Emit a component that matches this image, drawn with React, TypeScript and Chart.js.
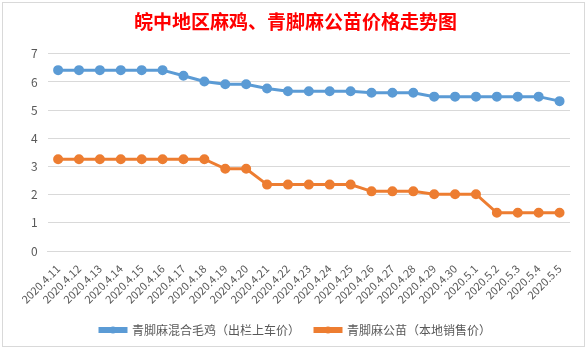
import React, { useEffect, useRef } from "react";
import { Chart, registerables } from "chart.js";

Chart.register(...registerables);

const TITLE = "皖中地区麻鸡、青脚麻公苗价格走势图";
const categories = [
  "2020.4.11", "2020.4.12", "2020.4.13", "2020.4.14", "2020.4.15", "2020.4.16", "2020.4.17",
  "2020.4.18", "2020.4.19", "2020.4.20", "2020.4.21", "2020.4.22", "2020.4.23", "2020.4.24",
  "2020.4.25", "2020.4.26", "2020.4.27", "2020.4.28", "2020.4.29", "2020.4.30", "2020.5.1",
  "2020.5.2", "2020.5.3", "2020.5.4", "2020.5.5",
];
const seriesNames = ["青脚麻混合毛鸡（出栏上车价）", "青脚麻公苗（本地销售价）"];
const chickenPrice = [
  6.42, 6.42, 6.42, 6.42, 6.42, 6.42, 6.22, 6.02, 5.92, 5.92, 5.77, 5.67, 5.67, 5.67,
  5.67, 5.62, 5.62, 5.62, 5.48, 5.48, 5.48, 5.48, 5.48, 5.48, 5.32,
];
const chickPrice = [
  3.26, 3.26, 3.26, 3.26, 3.26, 3.26, 3.26, 3.26, 2.92, 2.92, 2.36, 2.36, 2.36, 2.36,
  2.36, 2.12, 2.12, 2.12, 2.02, 2.02, 2.02, 1.36, 1.36, 1.36, 1.36,
];
const yTicks = [0, 1, 2, 3, 4, 5, 6, 7];

const FONT = "'Noto Sans CJK SC', 'Noto Sans', sans-serif";
const BLUE = "#5B9BD5";
const ORANGE = "#ED7D31";

const legendMarkers = {
  id: "legendMarkers",
  afterDraw(chart: any) {
    const legend = chart.legend;
    if (!legend || !legend.legendHitBoxes) return;
    const ctx = chart.ctx;
    legend.legendHitBoxes.forEach((box: any, i: number) => {
      const ds = chart.data.datasets[i];
      const cx = box.left + 13;
      const cy = box.top + box.height / 2;
      ctx.save();
      ctx.fillStyle = ds.borderColor;
      ctx.beginPath();
      ctx.arc(cx, cy, 3.5, 0, Math.PI * 2);
      ctx.fill();
      ctx.restore();
    });
  },
};

export default function App() {
  const ref = useRef<HTMLCanvasElement>(null);
  useEffect(() => {
    document.body.style.margin = "0";
    const chart = new Chart(ref.current!, {
      type: "line",
      data: {
        labels: categories,
        datasets: [
          {
            label: seriesNames[0],
            data: chickenPrice,
            borderColor: BLUE,
            backgroundColor: BLUE,
            borderWidth: 3,
            pointRadius: 3.5,
            pointBackgroundColor: BLUE,
            pointBorderColor: BLUE,
            tension: 0,
          },
          {
            label: seriesNames[1],
            data: chickPrice,
            borderColor: ORANGE,
            backgroundColor: ORANGE,
            borderWidth: 3,
            pointRadius: 3.5,
            pointBackgroundColor: ORANGE,
            pointBorderColor: ORANGE,
            tension: 0,
          },
        ],
      },
      options: {
        animation: false,
        responsive: false,
        maintainAspectRatio: false,
        layout: { padding: { left: 18, right: 14, top: 0, bottom: 0 } },
        plugins: {
          title: {
            display: true,
            text: TITLE,
            color: "#FF0000",
            font: { family: FONT, size: 19, weight: "bold" },
            padding: { top: 7, bottom: 21 },
          },
          legend: {
            position: "bottom",
            labels: {
              color: "#595959",
              font: { family: FONT, size: 12 },
              boxWidth: 26,
              boxHeight: 3,
              padding: 15,
            },
          },
          tooltip: { enabled: false },
        },
        scales: {
          x: {
            offset: true,
            grid: { display: false },
            border: { color: "#d9d9d9" },
            ticks: {
              color: "#595959",
              font: { family: FONT, size: 11 },
              minRotation: 45,
              maxRotation: 45,
              autoSkip: false,
            },
          },
          y: {
            min: 0,
            max: 7,
            afterBuildTicks: (axis: any) => {
              axis.ticks = yTicks.map((v) => ({ value: v }));
            },
            grid: { color: "#d9d9d9", drawTicks: false },
            border: { display: false },
            ticks: {
              color: "#595959",
              font: { family: FONT, size: 12 },
              padding: 10,
            },
          },
        },
      },
      plugins: [legendMarkers],
    });
    return () => chart.destroy();
  }, []);
  return (
    <div style={{ position: "relative", width: 586, height: 350, background: "#fff" }}>
      <div
        style={{
          position: "absolute",
          left: 2,
          top: 2,
          width: 581,
          height: 343,
          border: "1px solid #d9d9d9",
        }}
      >
        <canvas ref={ref} width={581} height={343} style={{ display: "block" }} />
      </div>
    </div>
  );
}
